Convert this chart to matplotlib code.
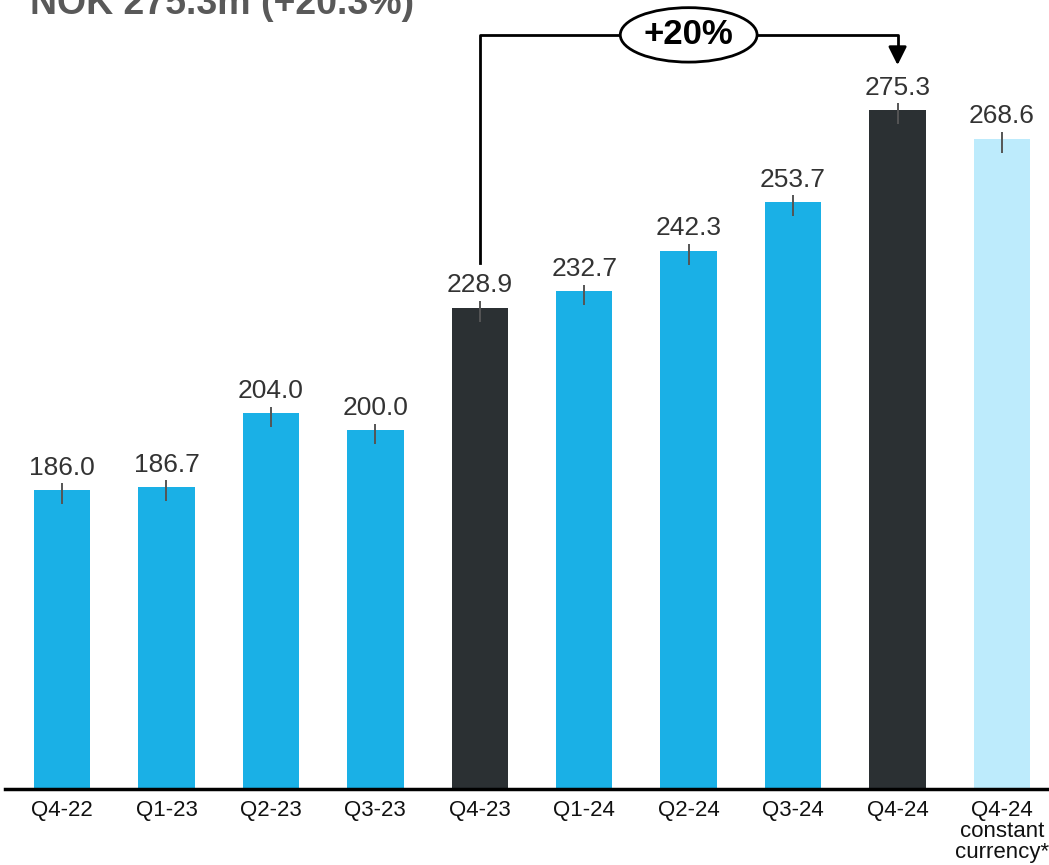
import matplotlib.pyplot as plt
from matplotlib.patches import Ellipse

plt.rcParams['font.family'] = ['Liberation Sans', 'DejaVu Sans']

quarters = ['Q4-22', 'Q1-23', 'Q2-23', 'Q3-23', 'Q4-23', 'Q1-24', 'Q2-24', 'Q3-24', 'Q4-24',
            'Q4-24\nconstant\ncurrency*']
values = [186.0, 186.7, 204.0, 200.0, 228.9, 232.7, 242.3, 253.7, 275.3, 268.6]
kinds = ['q', 'q', 'q', 'q', 'hl', 'q', 'q', 'q', 'hl', 'cc']
title = 'NOK 275.3m (+20.3%)'
growth_label = '+20%'

colors = {'q': '#1AB0E6', 'hl': '#2B3033', 'cc': '#BDEBFC'}
bar_colors = [colors[k] for k in kinds]

fig = plt.figure(figsize=(10.49, 8.65), dpi=100)
ax = fig.add_axes([5 / 1049, 76 / 865, 1044 / 1049, 789 / 865])

x = list(range(len(values)))
ax.bar(x, values, width=0.54, color=bar_colors, zorder=2)

# small grey tick marks at the bar tops
ax.vlines(x, [v - 3.3 for v in values], [v + 1.6 for v in values],
          color='#555555', lw=1.4, zorder=3)

for xi, v in zip(x, values):
    ax.annotate(f'{v:.1f}', (xi, v), xytext=(0, 7.5), textcoords='offset points',
                ha='center', va='bottom', fontsize=19, color='#333333')

ax.set_xlim(-0.546, 9.45)
ax.set_ylim(115.7, 301.2)
ax.set_xticks(x)
ax.set_xticklabels(quarters, fontsize=16, linespacing=1.0, color='#111111')
ax.tick_params(axis='x', length=0, pad=8)
ax.set_yticks([])
for s in ['top', 'right', 'left']:
    ax.spines[s].set_visible(False)
ax.spines['bottom'].set_linewidth(2.5)
ax.spines['bottom'].set_color('black')

# growth bracket from Q4-23 to Q4-24
i0, i1 = 4, 8
y_top = 293.0
ax.plot([i0, i0, i1, i1], [values[i0] + 10.5, y_top, y_top, 289.0],
        color='black', lw=2, zorder=4, clip_on=False)
ax.annotate('', xy=(i1, 285.9), xytext=(i1, 289.5),
            arrowprops=dict(arrowstyle='-|>,head_length=1.1,head_width=0.55',
                            color='black', lw=2, shrinkA=0, shrinkB=0))
xm = (i0 + i1) / 2
ax.add_patch(Ellipse((xm, y_top), width=1.31, height=12.8, facecolor='white',
                     edgecolor='black', lw=2, zorder=5, clip_on=False))
ax.text(xm, y_top, growth_label, ha='center', va='center', fontsize=25,
        fontweight='bold', color='black', zorder=6)

fig.text(30 / 1049, 1 - 14 / 865, title, ha='left', va='baseline', fontsize=27,
         fontweight='bold', color='#595959')

fig.savefig('out.png', dpi=100)
